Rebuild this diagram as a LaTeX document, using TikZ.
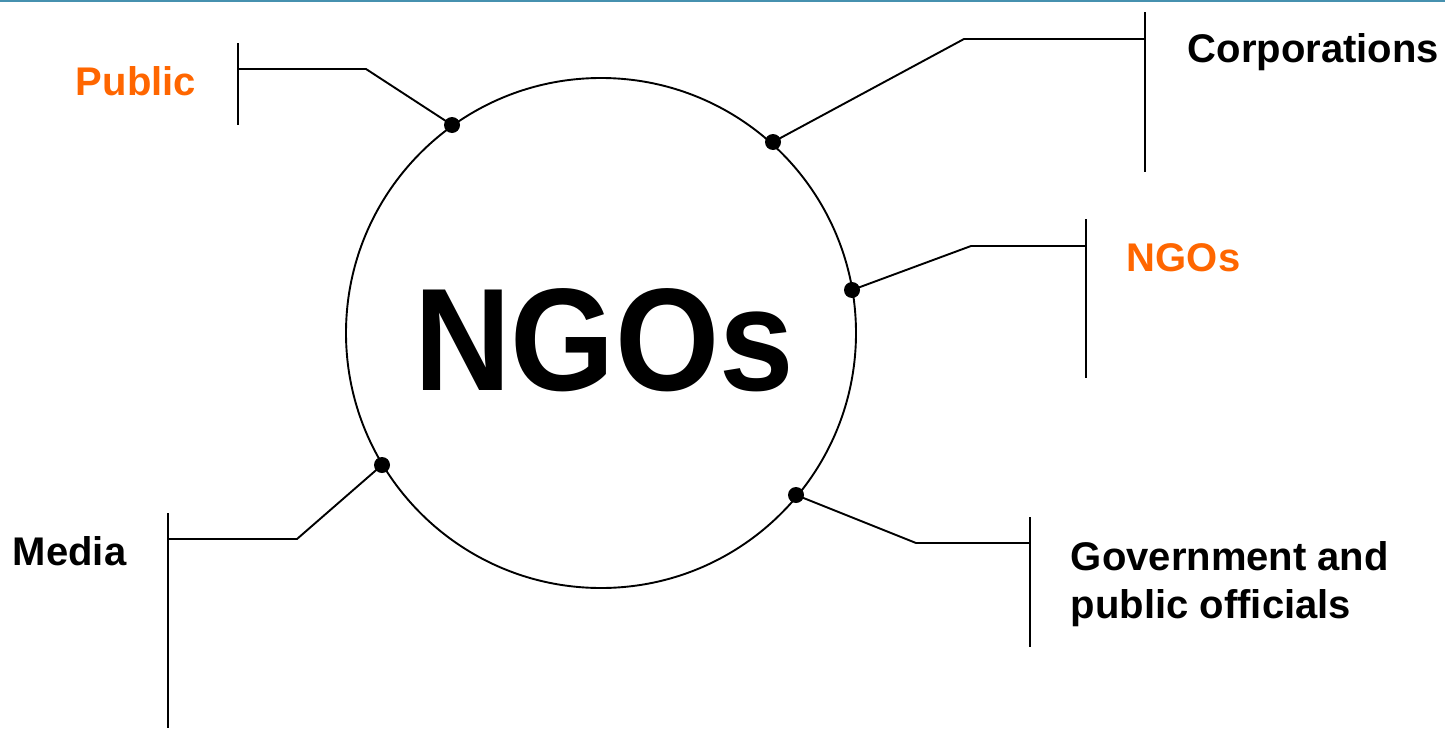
\documentclass[tikz,border=0pt]{standalone}
\usepackage{fontspec}
\setmainfont{Liberation Sans}
\usepackage{graphicx}
\usepackage{xcolor}
\definecolor{ngoorange}{RGB}{255,102,0}
\definecolor{topline}{RGB}{70,145,175}

\begin{document}
\begin{tikzpicture}[x=1pt, y=-1pt, line width=1.9pt,
    lbl/.style={font=\fontsize{40}{48}\selectfont\bfseries, anchor=base west, inner sep=0pt, align=left},
    dot/.style={circle, fill=black, inner sep=0pt, minimum size=16pt}]
    \useasboundingbox (0,0) rectangle (1445,728);
    \draw [topline, line width=2pt] (0,1) -- (1445,1);
    % the circle
    \node [circle, draw, minimum size=510pt, inner sep=0pt] (hub) at (601,333) {};
    \node [inner sep=0pt] (title) at (604,340)
        {\scalebox{1}[1.09]{\fontsize{134}{140}\selectfont\bfseries NGOs}};
    % labels
    \node [lbl, text=ngoorange] (public) at (75,95) {Public};
    \node [lbl] (corp) at (1187,62) {Corporations};
    \node [lbl, text=ngoorange] (ngos) at (1126,271) {NGOs};
    \node [lbl] (media) at (12,565) {Media};
    \node [lbl] (gov) at (1070,618) {Government and\\public officials};
    % bends and bars
    \coordinate (pubbend) at (366,69);
    \coordinate (pubbar) at (238,69);
    \coordinate (corpbend) at (964,39);
    \coordinate (corpbar) at (1145,39);
    \coordinate (ngobend) at (971,246);
    \coordinate (ngobar) at (1086,246);
    \coordinate (medbend) at (297,539);
    \coordinate (medbar) at (168,539);
    \coordinate (govbend) at (916,543);
    \coordinate (govbar) at (1030,543);
    \draw (238,43) -- (pubbar) -- (238,125);
    \draw (1145,12) -- (corpbar) -- (1145,172);
    \draw (1086,219) -- (ngobar) -- (1086,378);
    \draw (168,513) -- (medbar) -- (168,728);
    \draw (1030,517) -- (govbar) -- (1030,647);
    % dots on the circle
    \node [dot] (dpub) at (452,125) {};
    \node [dot] (dcorp) at (773,142) {};
    \node [dot] (dngo) at (852,290) {};
    \node [dot] (dmed) at (382,465) {};
    \node [dot] (dgov) at (796,495) {};
    \draw (dpub.center) -- (pubbend) -- (pubbar);
    \draw (dcorp.center) -- (corpbend) -- (corpbar);
    \draw (dngo.center) -- (ngobend) -- (ngobar);
    \draw (dmed.center) -- (medbend) -- (medbar);
    \draw (dgov.center) -- (govbend) -- (govbar);
\end{tikzpicture}
\end{document}
